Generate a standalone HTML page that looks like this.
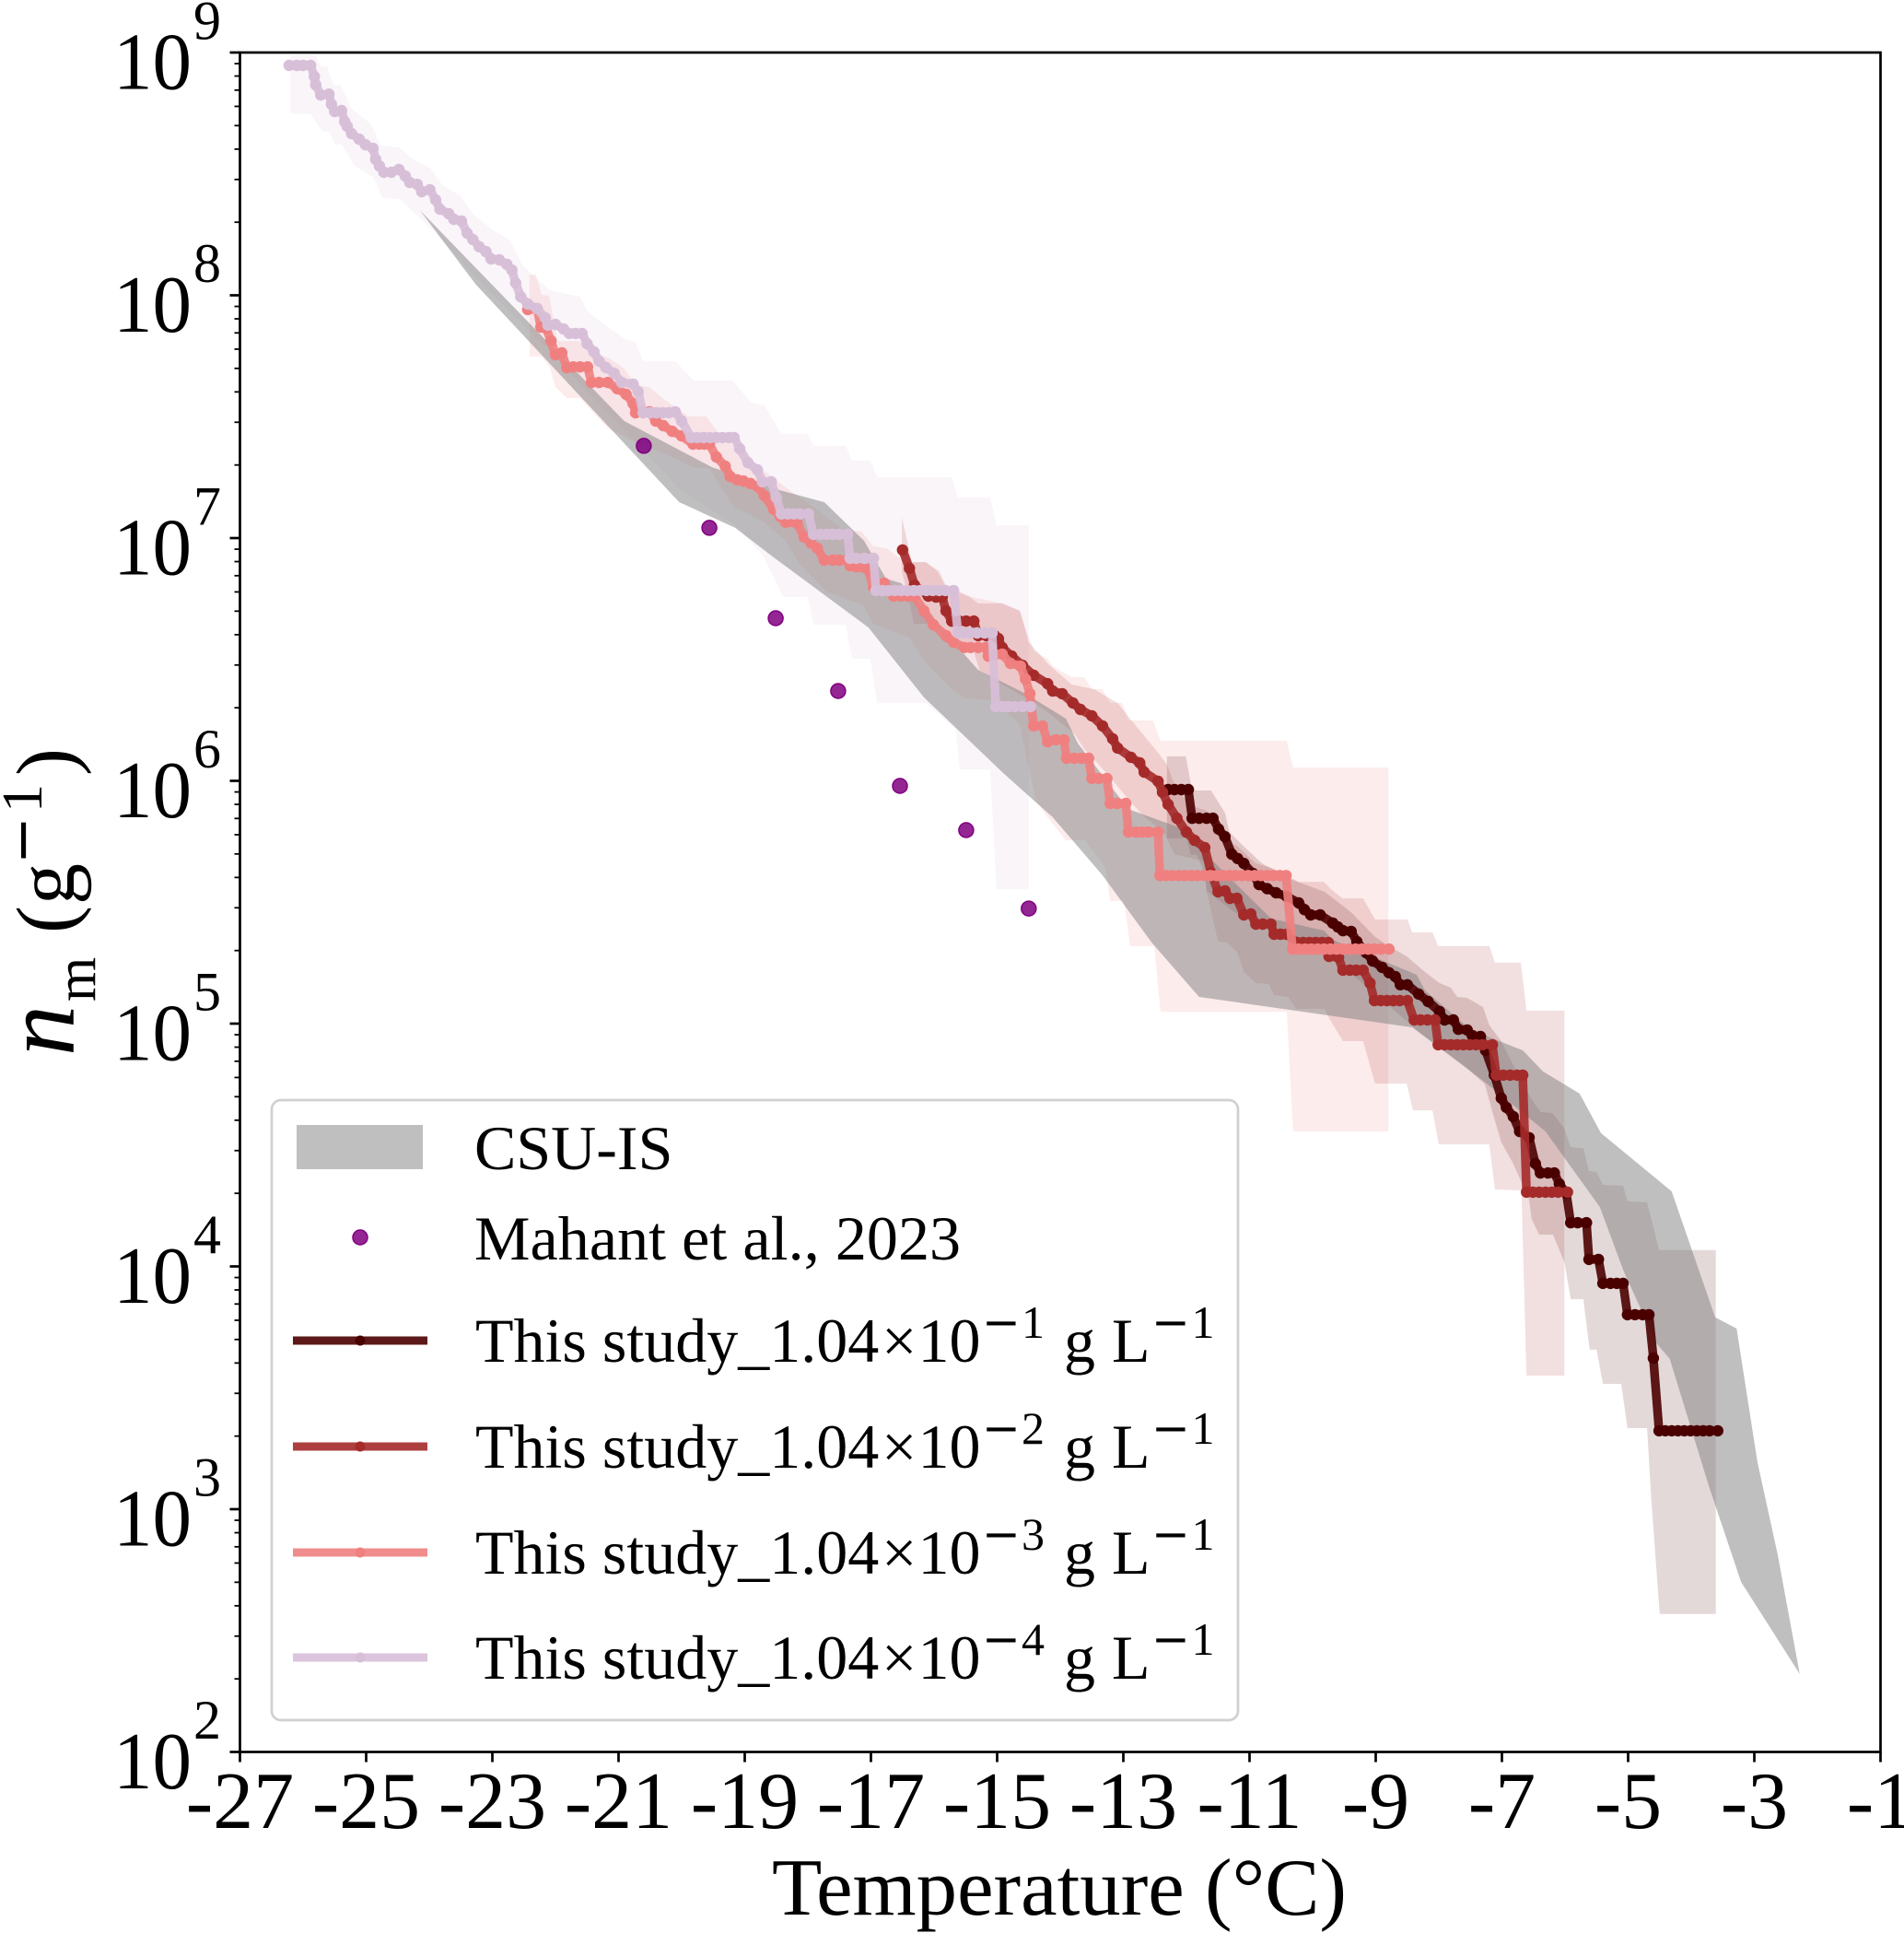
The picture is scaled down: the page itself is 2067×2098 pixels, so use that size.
<!DOCTYPE html>
<html lang="en">
<head>
<meta charset="utf-8">
<title>INP spectra chart</title>
<style>
html,body{margin:0;padding:0;background:#fff;}
svg{display:block;}
text{font-family:"Liberation Serif",serif;fill:#000;}
.dj{font-family:"DejaVu Sans",sans-serif;}
</style>
</head>
<body>
<svg id="chart" xmlns="http://www.w3.org/2000/svg" width="2067" height="2098" viewBox="0 0 2067 2098">
  <g id="bands"></g>
  <g id="lines"></g>
  <g id="points"></g>
  <g id="axes">
    <rect x="260.5" y="57" width="1781" height="1844.5" fill="none" stroke="#000" stroke-width="2.7"/>
  </g>
  <text x="1150" y="2078" font-size="88" text-anchor="middle" textLength="624" lengthAdjust="spacingAndGlyphs">Temperature (°C)</text>
  <g transform="translate(80,1144) rotate(-90)">
    <text x="-2" y="0" font-size="110" font-style="italic">n</text>
    <text x="57" y="23" font-size="62">m</text>
    <text x="131" y="0" font-size="90">(</text>
    <text x="162" y="0" font-size="90">g</text>
    <text class="dj" x="206" y="-35" font-size="62">−</text>
    <text x="262" y="-35" font-size="62">1</text>
    <text x="302" y="0" font-size="90">)</text>
  </g>
  <g>
    <rect x="295" y="1194" width="1049" height="673" rx="10" ry="10" fill="#fff" stroke="#d0d0d0" stroke-width="2.7"/>
    <g>
      <rect x="322" y="1221" width="137" height="48" fill="#7f7f7f" fill-opacity="0.5"/>
      <text x="515" y="1269" font-size="68">CSU-IS</text>
    </g>
    <g>
      <circle cx="391" cy="1343" r="8" fill="#800080" fill-opacity="0.85" stroke="#800080" stroke-width="1.5"/>
      <text x="515" y="1367" font-size="68" textLength="528" lengthAdjust="spacing">Mahant et al., 2023</text>
    </g>
    <g>
      <line x1="318" x2="464" y1="1455" y2="1455" stroke="#4b0000" stroke-opacity="0.9" stroke-width="9"/>
      <circle cx="391" cy="1455" r="5.5" fill="#4b0000"/>
      <text x="516" y="1478" font-size="68">This study_1.04</text>
      <text x="957" y="1478" font-size="68">×</text>
      <text x="996.5" y="1478" font-size="68">10</text>
      <text class="dj" x="1066" y="1452" font-size="50">−</text>
      <text x="1109" y="1452" font-size="50">1</text>
      <text x="1155" y="1478" font-size="68">g</text>
      <text x="1207" y="1478" font-size="68">L</text>
      <text class="dj" x="1250" y="1452" font-size="50">−</text>
      <text x="1293.5" y="1452" font-size="50">1</text>
    </g>
    <g>
      <line x1="318" x2="464" y1="1570" y2="1570" stroke="#a52a2a" stroke-opacity="0.9" stroke-width="9"/>
      <circle cx="391" cy="1570" r="5.5" fill="#a52a2a"/>
      <text x="516" y="1593" font-size="68">This study_1.04</text>
      <text x="957" y="1593" font-size="68">×</text>
      <text x="996.5" y="1593" font-size="68">10</text>
      <text class="dj" x="1066" y="1567" font-size="50">−</text>
      <text x="1109" y="1567" font-size="50">2</text>
      <text x="1155" y="1593" font-size="68">g</text>
      <text x="1207" y="1593" font-size="68">L</text>
      <text class="dj" x="1250" y="1567" font-size="50">−</text>
      <text x="1293.5" y="1567" font-size="50">1</text>
    </g>
    <g>
      <line x1="318" x2="464" y1="1685" y2="1685" stroke="#f08080" stroke-opacity="0.9" stroke-width="9"/>
      <circle cx="391" cy="1685" r="5.5" fill="#f08080"/>
      <text x="516" y="1708" font-size="68">This study_1.04</text>
      <text x="957" y="1708" font-size="68">×</text>
      <text x="996.5" y="1708" font-size="68">10</text>
      <text class="dj" x="1066" y="1682" font-size="50">−</text>
      <text x="1109" y="1682" font-size="50">3</text>
      <text x="1155" y="1708" font-size="68">g</text>
      <text x="1207" y="1708" font-size="68">L</text>
      <text class="dj" x="1250" y="1682" font-size="50">−</text>
      <text x="1293.5" y="1682" font-size="50">1</text>
    </g>
    <g>
      <line x1="318" x2="464" y1="1799" y2="1799" stroke="#d8bfd8" stroke-opacity="0.9" stroke-width="9"/>
      <circle cx="391" cy="1799" r="5.5" fill="#d8bfd8"/>
      <text x="516" y="1822" font-size="68">This study_1.04</text>
      <text x="957" y="1822" font-size="68">×</text>
      <text x="996.5" y="1822" font-size="68">10</text>
      <text class="dj" x="1066" y="1796" font-size="50">−</text>
      <text x="1109" y="1796" font-size="50">4</text>
      <text x="1155" y="1822" font-size="68">g</text>
      <text x="1207" y="1822" font-size="68">L</text>
      <text class="dj" x="1250" y="1796" font-size="50">−</text>
      <text x="1293.5" y="1796" font-size="50">1</text>
    </g>
  </g>
</svg>
<script>
// Axis ticks
const xTickValues = [-27,-25,-23,-21,-19,-17,-15,-13,-11,-9,-7,-5,-3,-1];
const yTickExponents = [2,3,4,5,6,7,8,9];
const yMinorMultipliers = [2,3,4,5,6,7,8,9];

// All series are [temperature in deg C, log10(nm in per gram)]
const csuUpper = [[-24.15,8.351],[-20.91,7.482],[-19.52,7.292],[-18.44,7.197],[-17.74,7.148],[-17.11,6.989],[-16.76,6.833],[-16.52,6.814],[-15.30,6.457],[-14.55,6.359],[-13.91,6.256],[-13.72,6.154],[-12.92,5.884],[-12.12,5.808],[-10.66,5.433],[-9.82,5.383],[-9.68,5.345],[-8.35,5.201],[-8.22,5.137],[-7.49,4.974],[-6.67,4.89],[-6.35,4.803],[-5.77,4.712],[-5.43,4.549],[-4.31,4.309],[-3.62,3.79],[-3.28,3.744],[-2.95,3.194],[-2.63,2.814],[-2.28,2.321]];
const csuLower = [[-24.15,8.351],[-23.26,8.044],[-20.04,7.148],[-19.15,7.042],[-18.58,6.928],[-17.04,6.632],[-16.16,6.344],[-14.89,6.029],[-14.12,5.85],[-13.33,5.611],[-12.55,5.334],[-11.80,5.11],[-8.42,4.985],[-7.30,4.765],[-6.31,4.556],[-5.45,4.245],[-5.07,3.98],[-4.55,3.683],[-4.34,3.619],[-3.72,3.095],[-3.21,2.70],[-2.28,2.321]];

const mahantPoints = [[-20.60,7.38],[-19.56,7.042],[-18.51,6.67],[-17.52,6.37],[-16.54,5.979],[-15.49,5.797],[-14.50,5.474]];

const series1 = [[-12.29,5.964],[-12.19,5.964],[-12.08,5.964],[-11.97,5.964],[-11.91,5.846],[-11.80,5.846],[-11.68,5.846],[-11.58,5.846],[-11.49,5.801],[-11.39,5.77],[-11.28,5.698],[-11.19,5.68],[-11.09,5.66],[-10.95,5.619],[-10.85,5.573],[-10.72,5.556],[-10.58,5.539],[-10.41,5.524],[-10.22,5.497],[-10.13,5.47],[-10.03,5.448],[-9.88,5.448],[-9.68,5.414],[-9.60,5.398],[-9.52,5.383],[-9.39,5.38],[-9.30,5.338],[-9.15,5.292],[-9.05,5.258],[-8.90,5.232],[-8.79,5.21],[-8.69,5.194],[-8.61,5.16],[-8.50,5.16],[-8.32,5.122],[-8.17,5.091],[-7.99,5.05],[-7.91,5.015],[-7.77,5.015],[-7.69,4.977],[-7.55,4.974],[-7.47,4.951],[-7.34,4.947],[-7.26,4.89],[-7.12,4.788],[-7.01,4.693],[-6.93,4.655],[-6.82,4.617],[-6.72,4.556],[-6.57,4.53],[-6.47,4.423],[-6.39,4.385],[-6.27,4.385],[-6.17,4.385],[-6.09,4.34],[-5.98,4.302],[-5.91,4.18],[-5.80,4.18],[-5.66,4.18],[-5.62,4.029],[-5.47,4.029],[-5.40,3.93],[-5.28,3.93],[-5.18,3.93],[-5.08,3.93],[-5.01,3.801],[-4.89,3.801],[-4.77,3.801],[-4.67,3.801],[-4.60,3.622],[-4.51,3.323],[-4.41,3.323],[-4.31,3.323],[-4.21,3.323],[-4.11,3.323],[-4.01,3.323],[-3.91,3.323],[-3.81,3.323],[-3.71,3.323],[-3.58,3.323]];
const series1BandUpper = [[-12.31,6.101],[-12.01,6.101],[-11.91,5.96],[-11.61,5.96],[-11.39,5.869],[-11.32,5.789],[-11.07,5.725],[-10.80,5.66],[-10.32,5.592],[-9.81,5.543],[-9.39,5.459],[-9.01,5.357],[-8.79,5.319],[-8.51,5.277],[-8.22,5.213],[-7.99,5.167],[-7.81,5.148],[-7.71,5.11],[-7.55,5.106],[-7.30,5.068],[-7.20,4.993],[-7.01,4.928],[-6.72,4.776],[-6.53,4.689],[-6.39,4.636],[-6.20,4.632],[-6.01,4.568],[-5.91,4.491],[-5.71,4.487],[-5.62,4.393],[-5.50,4.389],[-5.40,4.336],[-5.08,4.332],[-5.01,4.268],[-4.70,4.264],[-4.51,4.067],[-3.61,4.067]];
const series1BandLower = [[-12.31,5.763],[-12.00,5.763],[-11.93,5.695],[-11.83,5.695],[-11.71,5.611],[-11.68,5.547],[-11.24,5.459],[-10.90,5.421],[-10.37,5.364],[-9.78,5.307],[-9.34,5.194],[-8.90,5.099],[-8.32,4.966],[-7.59,4.825],[-7.27,4.75],[-7.15,4.636],[-7.01,4.511],[-6.82,4.423],[-6.57,4.275],[-6.53,4.196],[-6.41,4.131],[-6.19,4.131],[-6.01,4.017],[-5.91,3.865],[-5.71,3.865],[-5.61,3.657],[-5.50,3.657],[-5.40,3.516],[-5.11,3.516],[-5.01,3.334],[-4.70,3.334],[-4.63,3.031],[-4.50,2.568],[-3.61,2.568]];

const series2 = [[-16.50,6.951],[-16.39,6.875],[-16.31,6.806],[-16.09,6.761],[-15.97,6.757],[-15.87,6.757],[-15.81,6.70],[-15.72,6.658],[-15.60,6.658],[-15.49,6.658],[-15.37,6.658],[-15.30,6.598],[-15.17,6.598],[-15.04,6.598],[-14.98,6.586],[-14.92,6.549],[-14.77,6.514],[-14.60,6.476],[-14.42,6.435],[-14.20,6.40],[-14.12,6.37],[-13.97,6.359],[-13.80,6.321],[-13.68,6.294],[-13.50,6.268],[-13.33,6.226],[-13.17,6.173],[-13.09,6.135],[-12.88,6.097],[-12.74,6.074],[-12.67,6.036],[-12.45,5.998],[-12.38,5.953],[-12.29,5.903],[-12.15,5.846],[-12.00,5.789],[-11.87,5.755],[-11.71,5.725],[-11.61,5.622],[-11.50,5.543],[-11.39,5.547],[-11.31,5.516],[-11.20,5.516],[-11.09,5.448],[-10.98,5.452],[-10.90,5.41],[-10.79,5.41],[-10.66,5.41],[-10.61,5.368],[-10.51,5.368],[-10.41,5.368],[-10.25,5.334],[-10.15,5.334],[-10.05,5.334],[-9.95,5.334],[-9.85,5.334],[-9.75,5.334],[-9.74,5.277],[-9.59,5.273],[-9.52,5.22],[-9.41,5.22],[-9.31,5.22],[-9.20,5.22],[-9.09,5.167],[-9.02,5.095],[-8.92,5.095],[-8.82,5.095],[-8.72,5.095],[-8.62,5.095],[-8.50,5.095],[-8.39,5.015],[-8.29,5.015],[-8.18,5.015],[-8.06,5.015],[-8.01,4.913],[-7.91,4.913],[-7.81,4.913],[-7.71,4.913],[-7.61,4.913],[-7.51,4.913],[-7.41,4.913],[-7.31,4.913],[-7.15,4.913],[-7.09,4.788],[-6.98,4.788],[-6.87,4.788],[-6.76,4.788],[-6.67,4.788],[-6.61,4.306],[-6.51,4.306],[-6.41,4.306],[-6.31,4.306],[-6.21,4.306],[-6.11,4.306],[-5.96,4.306]];
const series2BandUpper = [[-16.51,7.084],[-16.35,6.901],[-16.13,6.901],[-15.94,6.863],[-15.81,6.799],[-15.43,6.757],[-15.30,6.731],[-14.92,6.731],[-14.64,6.70],[-14.50,6.571],[-14.20,6.484],[-13.82,6.397],[-13.47,6.378],[-13.09,6.321],[-12.80,6.226],[-12.45,6.116],[-12.31,6.067],[-12.16,5.964],[-11.91,5.896],[-11.68,5.877],[-11.49,5.82],[-11.39,5.752],[-11.20,5.733],[-10.90,5.66],[-10.61,5.638],[-10.22,5.584],[-9.82,5.584],[-9.71,5.554],[-9.53,5.516],[-9.20,5.516],[-9.01,5.429],[-8.50,5.429],[-8.42,5.376],[-8.10,5.376],[-8.01,5.319],[-7.20,5.319],[-7.11,5.251],[-6.70,5.251],[-6.61,5.053],[-6.01,5.053]];
const series2BandLower = [[-16.51,6.863],[-16.39,6.738],[-16.32,6.647],[-16.09,6.647],[-15.84,6.571],[-15.37,6.533],[-15.28,6.457],[-14.99,6.408],[-14.55,6.344],[-14.20,6.283],[-13.77,6.192],[-13.62,6.131],[-13.39,6.067],[-13.17,6.002],[-12.89,5.915],[-12.66,5.85],[-12.36,5.789],[-12.19,5.698],[-11.72,5.668],[-11.68,5.547],[-11.50,5.338],[-11.36,5.334],[-11.20,5.296],[-11.09,5.213],[-10.90,5.167],[-10.70,5.163],[-10.61,5.118],[-10.39,5.11],[-10.26,5.061],[-9.81,5.061],[-9.74,5.023],[-9.52,4.928],[-9.20,4.928],[-9.01,4.753],[-8.51,4.753],[-8.41,4.643],[-8.10,4.643],[-8.00,4.503],[-7.20,4.503],[-7.11,4.317],[-6.69,4.313],[-6.61,3.55],[-6.01,3.55]];

const series3 = [[-22.44,7.941],[-22.29,7.945],[-22.23,7.869],[-22.15,7.865],[-22.07,7.812],[-22.00,7.755],[-21.90,7.763],[-21.82,7.702],[-21.72,7.705],[-21.61,7.705],[-21.49,7.705],[-21.43,7.641],[-21.31,7.641],[-21.17,7.641],[-21.02,7.615],[-20.88,7.592],[-20.77,7.554],[-20.73,7.516],[-20.62,7.52],[-20.51,7.52],[-20.41,7.482],[-20.29,7.463],[-20.15,7.44],[-20.00,7.421],[-19.82,7.387],[-19.72,7.387],[-19.64,7.387],[-19.56,7.387],[-19.45,7.334],[-19.31,7.296],[-19.23,7.254],[-19.12,7.24],[-19.02,7.235],[-18.91,7.225],[-18.80,7.213],[-18.69,7.175],[-18.54,7.118],[-18.44,7.09],[-18.35,7.065],[-18.17,7.061],[-18.06,7.004],[-17.95,6.98],[-17.85,6.958],[-17.74,6.909],[-17.60,6.909],[-17.50,6.909],[-17.37,6.909],[-17.33,6.886],[-17.23,6.882],[-17.05,6.871],[-16.96,6.799],[-16.88,6.81],[-16.79,6.814],[-16.64,6.761],[-16.52,6.761],[-16.41,6.761],[-16.31,6.761],[-16.16,6.70],[-16.01,6.643],[-15.81,6.598],[-15.69,6.571],[-15.52,6.549],[-15.42,6.549],[-15.30,6.549],[-15.18,6.549],[-15.14,6.514],[-15.03,6.52],[-14.92,6.522],[-14.79,6.484],[-14.63,6.473],[-14.55,6.419],[-14.48,6.359],[-14.42,6.226],[-14.28,6.226],[-14.20,6.161],[-14.07,6.169],[-13.94,6.169],[-13.90,6.093],[-13.78,6.093],[-13.66,6.093],[-13.55,6.093],[-13.50,6.01],[-13.39,6.01],[-13.26,6.01],[-13.21,5.907],[-13.10,5.907],[-12.96,5.907],[-12.92,5.789],[-12.80,5.789],[-12.70,5.789],[-12.60,5.789],[-12.45,5.789],[-12.42,5.61],[-12.32,5.61],[-12.22,5.61],[-12.12,5.61],[-12.02,5.61],[-11.92,5.61],[-11.82,5.61],[-11.72,5.61],[-11.62,5.61],[-11.52,5.61],[-11.42,5.61],[-11.32,5.61],[-11.22,5.61],[-11.12,5.61],[-11.02,5.61],[-10.92,5.61],[-10.82,5.61],[-10.72,5.61],[-10.62,5.61],[-10.52,5.61],[-10.42,5.61],[-10.32,5.307],[-10.22,5.307],[-10.12,5.307],[-10.02,5.307],[-9.92,5.307],[-9.82,5.307],[-9.72,5.307],[-9.62,5.307],[-9.52,5.307],[-9.42,5.307],[-9.32,5.307],[-9.22,5.307],[-9.12,5.307],[-9.02,5.307],[-8.92,5.307],[-8.79,5.307]];
const series3BandUpper = [[-22.41,8.085],[-22.31,8.085],[-22.22,8.002],[-22.10,7.998],[-21.97,7.812],[-21.64,7.812],[-21.39,7.767],[-21.12,7.736],[-20.91,7.698],[-20.73,7.63],[-20.51,7.622],[-20.29,7.573],[-19.90,7.501],[-19.61,7.501],[-19.42,7.433],[-18.88,7.311],[-18.58,7.254],[-18.29,7.197],[-17.91,7.129],[-17.45,7.034],[-17.15,7.027],[-16.96,6.966],[-16.76,6.958],[-16.45,6.901],[-16.13,6.901],[-15.91,6.863],[-15.81,6.806],[-15.40,6.757],[-14.92,6.731],[-14.64,6.70],[-14.50,6.59],[-14.41,6.533],[-14.20,6.503],[-14.12,6.473],[-13.82,6.427],[-13.62,6.427],[-13.50,6.378],[-13.33,6.378],[-13.21,6.321],[-13.02,6.321],[-12.92,6.249],[-12.53,6.249],[-12.41,6.165],[-10.41,6.165],[-10.31,6.055],[-8.80,6.055]];
const series3BandLower = [[-22.41,7.748],[-22.22,7.748],[-22.09,7.706],[-22.00,7.622],[-21.82,7.577],[-21.61,7.577],[-21.17,7.452],[-20.73,7.395],[-20.25,7.345],[-19.82,7.292],[-19.56,7.288],[-19.37,7.205],[-19.17,7.129],[-18.69,7.065],[-18.35,6.989],[-18.15,6.901],[-17.71,6.78],[-17.12,6.723],[-16.96,6.647],[-16.39,6.59],[-16.16,6.495],[-15.69,6.37],[-15.52,6.34],[-15.04,6.332],[-14.64,6.23],[-14.48,6.029],[-14.38,5.915],[-14.20,5.85],[-13.91,5.755],[-13.61,5.755],[-13.28,5.641],[-13.21,5.505],[-12.99,5.505],[-12.89,5.319],[-12.51,5.319],[-12.41,5.049],[-10.41,5.049],[-10.31,4.556],[-8.80,4.556]];

const series4 = [[-26.22,8.947],[-26.10,8.947],[-26.00,8.947],[-25.88,8.947],[-25.82,8.901],[-25.80,8.867],[-25.72,8.825],[-25.59,8.829],[-25.55,8.787],[-25.50,8.757],[-25.39,8.761],[-25.34,8.715],[-25.30,8.696],[-25.23,8.666],[-25.11,8.643],[-25.01,8.620],[-24.89,8.605],[-24.85,8.560],[-24.79,8.533],[-24.72,8.507],[-24.60,8.507],[-24.48,8.518],[-24.38,8.491],[-24.31,8.465],[-24.19,8.457],[-24.12,8.427],[-23.99,8.435],[-23.90,8.393],[-23.83,8.355],[-23.69,8.336],[-23.61,8.313],[-23.49,8.306],[-23.40,8.256],[-23.31,8.230],[-23.21,8.200],[-23.10,8.180],[-23.02,8.150],[-22.89,8.146],[-22.77,8.127],[-22.69,8.104],[-22.63,8.051],[-22.55,7.994],[-22.44,7.964],[-22.29,7.945],[-22.16,7.907],[-22.12,7.877],[-22.00,7.880],[-21.87,7.861],[-21.78,7.843],[-21.68,7.843],[-21.58,7.843],[-21.50,7.801],[-21.39,7.767],[-21.31,7.729],[-21.20,7.702],[-21.07,7.679],[-20.95,7.641],[-20.77,7.634],[-20.69,7.603],[-20.61,7.516],[-20.50,7.516],[-20.40,7.516],[-20.30,7.516],[-20.20,7.516],[-20.10,7.52],[-20.00,7.482],[-19.85,7.414],[-19.75,7.414],[-19.65,7.414],[-19.55,7.414],[-19.45,7.414],[-19.35,7.414],[-19.25,7.414],[-19.17,7.414],[-19.08,7.368],[-18.95,7.311],[-18.80,7.281],[-18.72,7.232],[-18.58,7.232],[-18.50,7.167],[-18.42,7.10],[-18.32,7.10],[-18.22,7.10],[-18.12,7.10],[-17.99,7.10],[-17.91,7.015],[-17.80,7.015],[-17.70,7.015],[-17.60,7.015],[-17.50,7.015],[-17.37,7.015],[-17.33,6.917],[-17.23,6.917],[-17.10,6.917],[-16.96,6.917],[-16.92,6.784],[-16.82,6.784],[-16.72,6.784],[-16.62,6.784],[-16.52,6.784],[-16.42,6.784],[-16.32,6.784],[-16.22,6.784],[-16.12,6.784],[-16.02,6.784],[-15.92,6.784],[-15.82,6.784],[-15.69,6.784],[-15.62,6.609],[-15.52,6.609],[-15.42,6.609],[-15.32,6.609],[-15.20,6.609],[-15.08,6.609],[-15.02,6.306],[-14.92,6.306],[-14.82,6.306],[-14.72,6.306],[-14.60,6.306],[-14.47,6.306]];
const series4BandUpper = [[-26.20,8.989],[-25.80,8.989],[-25.72,8.943],[-25.62,8.943],[-25.52,8.867],[-25.40,8.863],[-25.23,8.769],[-24.92,8.704],[-24.77,8.617],[-24.48,8.609],[-24.26,8.56],[-23.99,8.526],[-23.80,8.457],[-23.50,8.408],[-23.31,8.336],[-22.99,8.268],[-22.73,8.23],[-22.53,8.127],[-22.29,8.066],[-22.09,8.021],[-21.61,7.994],[-21.50,7.937],[-21.27,7.888],[-20.92,7.824],[-20.73,7.805],[-20.61,7.729],[-20.10,7.729],[-19.81,7.649],[-19.20,7.649],[-18.90,7.558],[-18.69,7.547],[-18.42,7.429],[-18.00,7.429],[-17.91,7.38],[-17.40,7.38],[-17.30,7.319],[-17.01,7.319],[-16.90,7.251],[-15.72,7.251],[-15.62,7.167],[-15.11,7.167],[-15.01,7.053],[-14.50,7.053]];
const series4BandLower = [[-26.20,8.75],[-25.88,8.746],[-25.69,8.674],[-25.59,8.674],[-25.49,8.62],[-25.39,8.62],[-25.18,8.533],[-24.89,8.488],[-24.74,8.40],[-24.48,8.397],[-24.28,8.351],[-23.94,8.268],[-23.21,8.059],[-22.04,7.755],[-20.88,7.433],[-20.04,7.205],[-19.15,7.053],[-18.72,6.932],[-18.39,6.757],[-18.00,6.757],[-17.91,6.643],[-17.40,6.643],[-17.30,6.503],[-17.01,6.503],[-16.90,6.321],[-16.13,6.321],[-15.66,6.214],[-15.59,6.047],[-15.11,6.047],[-15.01,5.554],[-14.50,5.554]];

// Axis functions
const xMinDeg = -27, xMaxDeg = -1, yMinExp = 2, yMaxExp = 9;
const plotLeft = 260.5, plotRight = 2041.5, plotTop = 57, plotBottom = 1901.5;
function xAxis(t){ return plotLeft + (t - xMinDeg) / (xMaxDeg - xMinDeg) * (plotRight - plotLeft); }
function yAxis(e){ return plotBottom - (e - yMinExp) / (yMaxExp - yMinExp) * (plotBottom - plotTop); }

const NS = 'http://www.w3.org/2000/svg';
function mk(tag, parent){ const el = document.createElementNS(NS, tag); parent.appendChild(el); return el; }
function pointString(arr){ return arr.map(function(p){ return xAxis(p[0]).toFixed(1) + ',' + yAxis(p[1]).toFixed(1); }).join(' '); }

const bandsGroup = document.getElementById('bands');
const linesGroup = document.getElementById('lines');
const pointsGroup = document.getElementById('points');
const axesGroup = document.getElementById('axes');

// Bands
function drawBand(upper, lower, color, opacity, name){
  const poly = mk('polygon', bandsGroup);
  poly.setAttribute('points', pointString(upper.concat(lower.slice().reverse())));
  poly.setAttribute('fill', color);
  poly.setAttribute('fill-opacity', opacity);
  
  
}
drawBand(series4BandUpper, series4BandLower, '#d8bfd8', 0.15, 'band-series-4');
drawBand(series3BandUpper, series3BandLower, '#f08080', 0.15, 'band-series-3');
drawBand(series2BandUpper, series2BandLower, '#a52a2a', 0.15, 'band-series-2');
drawBand(series1BandUpper, series1BandLower, '#4b0000', 0.15, 'band-series-1');
drawBand(csuUpper, csuLower, '#7f7f7f', 0.5, 'band-csu-is');

// Lines with markers
function drawSeries(data, color, name){
  const g = mk('g', linesGroup);
  
  
  const line = mk('polyline', g);
  line.setAttribute('points', pointString(data));
  line.setAttribute('fill', 'none');
  line.setAttribute('stroke', color);
  line.setAttribute('stroke-opacity', '0.9');
  line.setAttribute('stroke-width', '9.5');
  line.setAttribute('stroke-linejoin', 'round');
  
  
  data.forEach(function(p){
    const c = mk('circle', g);
    c.setAttribute('cx', xAxis(p[0]).toFixed(1));
    c.setAttribute('cy', yAxis(p[1]).toFixed(1));
    c.setAttribute('r', '6.2');
    c.setAttribute('fill', color);
    
    
  });
}
drawSeries(series1, '#4b0000', 'series-1');
drawSeries(series2, '#a52a2a', 'series-2');
drawSeries(series3, '#f08080', 'series-3');
drawSeries(series4, '#d8bfd8', 'series-4');

// Mahant points
mahantPoints.forEach(function(p){
  const c = mk('circle', pointsGroup);
  c.setAttribute('cx', xAxis(p[0]).toFixed(1));
  c.setAttribute('cy', yAxis(p[1]).toFixed(1));
  c.setAttribute('r', '8');
  c.setAttribute('fill', '#800080');
  c.setAttribute('fill-opacity', '0.85');
  c.setAttribute('stroke', '#800080');
  c.setAttribute('stroke-width', '1.5');
  
  
});

// X ticks
xTickValues.forEach(function(v){
  const x = xAxis(v);
  const t = mk('line', axesGroup);
  t.setAttribute('x1', x); t.setAttribute('x2', x);
  t.setAttribute('y1', plotBottom); t.setAttribute('y2', plotBottom + 11);
  t.setAttribute('stroke', '#000');
  t.setAttribute('stroke-width', '2.7');
  
  
  const l = mk('text', axesGroup);
  l.setAttribute('x', x);
  l.setAttribute('y', 1984);
  l.setAttribute('font-size', '88');
  l.setAttribute('text-anchor', 'middle');
  l.textContent = String(v);
  
  
});

// Y ticks
yTickExponents.forEach(function(e){
  const y = yAxis(e);
  const t = mk('line', axesGroup);
  t.setAttribute('x1', plotLeft - 11); t.setAttribute('x2', plotLeft);
  t.setAttribute('y1', y); t.setAttribute('y2', y);
  t.setAttribute('stroke', '#000');
  t.setAttribute('stroke-width', '2.7');
  
  
  const base = mk('text', axesGroup);
  base.setAttribute('x', 123);
  base.setAttribute('y', y + 39.5);
  base.setAttribute('font-size', '88');
  base.setAttribute('textLength', '85');
  base.setAttribute('lengthAdjust', 'spacingAndGlyphs');
  base.textContent = '10';
  
  
  const sup = mk('text', axesGroup);
  sup.setAttribute('x', 210);
  sup.setAttribute('y', y - 14.5);
  sup.setAttribute('font-size', '60');
  sup.textContent = String(e);
  
  
  if (e < yMaxExp) {
    yMinorMultipliers.forEach(function(m){
      const my = yAxis(e + Math.log10(m));
      const mt = mk('line', axesGroup);
      mt.setAttribute('x1', plotLeft - 6); mt.setAttribute('x2', plotLeft);
      mt.setAttribute('y1', my); mt.setAttribute('y2', my);
      mt.setAttribute('stroke', '#000');
      mt.setAttribute('stroke-width', '1.8');
      
      
    });
  }
});
</script>
</body>
</html>
